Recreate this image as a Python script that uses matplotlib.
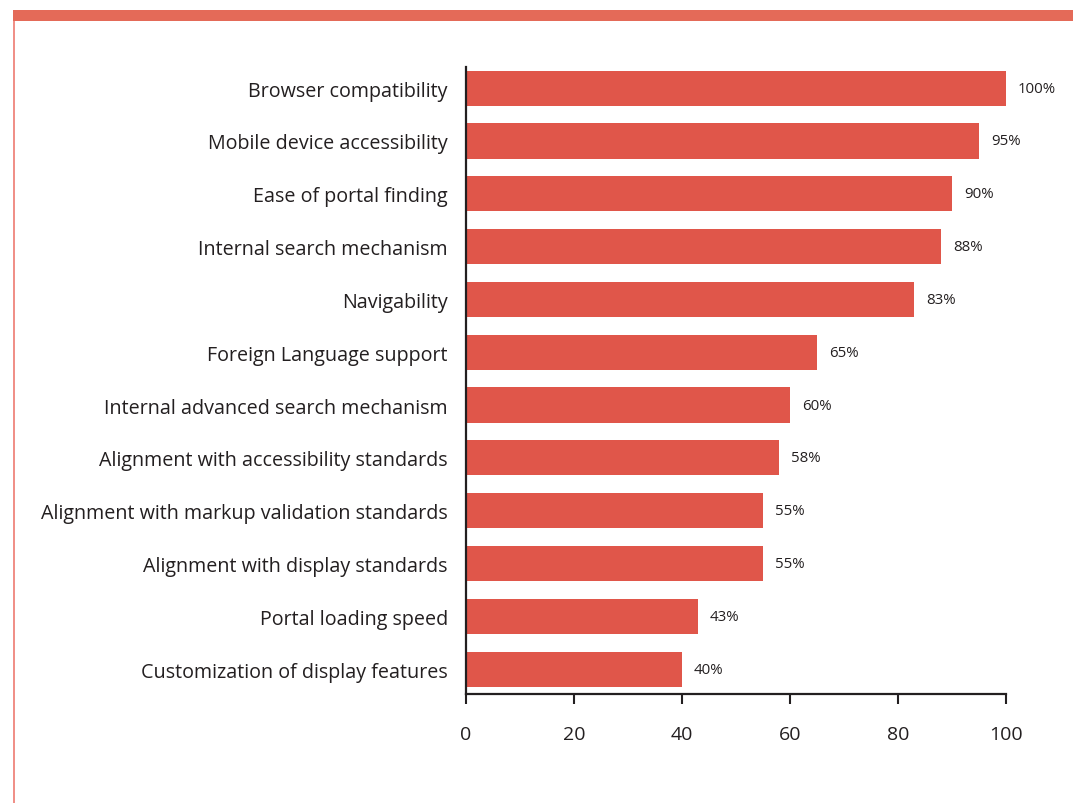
import matplotlib.pyplot as plt
from matplotlib.patches import Rectangle

categories = [
    'Browser compatibility',
    'Mobile device accessibility',
    'Ease of portal finding',
    'Internal search mechanism',
    'Navigability',
    'Foreign Language support',
    'Internal advanced search mechanism',
    'Alignment with accessibility standards',
    'Alignment with markup validation standards',
    'Alignment with display standards',
    'Portal loading speed',
    'Customization of display features',
]
values = [100, 95, 90, 88, 83, 65, 60, 58, 55, 55, 43, 40]
xticks = [0, 20, 40, 60, 80, 100]

plt.rcParams['font.family'] = ['Open Sans', 'DejaVu Sans']
ink = '#231f20'
bar_color = '#e0564a'

fig = plt.figure(figsize=(10.73, 8.04), dpi=100)
W, H = 1073, 804

# header band and left rule of the page frame
fig.add_artist(Rectangle((13 / W, 1 - 21.5 / H), 1 - 13 / W, 11 / H,
                         transform=fig.transFigure, color='#e46a58', lw=0))
fig.add_artist(Rectangle((13 / W, 0), 2 / W, 1 - 21.5 / H,
                         transform=fig.transFigure, color='#f09088', lw=0))

ax = fig.add_axes([466 / W, 1 - 695 / H, 540 / W, (695 - 68) / H])
pos = list(range(len(categories)))
ax.barh(pos, values, height=0.665, color=bar_color)

for p, v in zip(pos, values):
    ax.text(v + 2.2, p, f'{v}%', va='center', ha='left', fontsize=10.8, color=ink)

ax.set_xlim(0, 100)
ax.set_ylim(11.47, -0.4)
ax.set_yticks(pos)
ax.set_yticklabels(categories, fontsize=14.2, color=ink)
ax.set_xticks(xticks)
ax.set_xticklabels([str(t) for t in xticks], fontsize=14, color=ink)
ax.tick_params(axis='y', length=0, pad=13)
ax.tick_params(axis='x', length=7, width=1.5, color=ink, pad=15)

for s in ['top', 'right']:
    ax.spines[s].set_visible(False)
for s in ['left', 'bottom']:
    ax.spines[s].set_linewidth(1.6)
    ax.spines[s].set_color(ink)

fig.savefig('out.png', dpi=100)
